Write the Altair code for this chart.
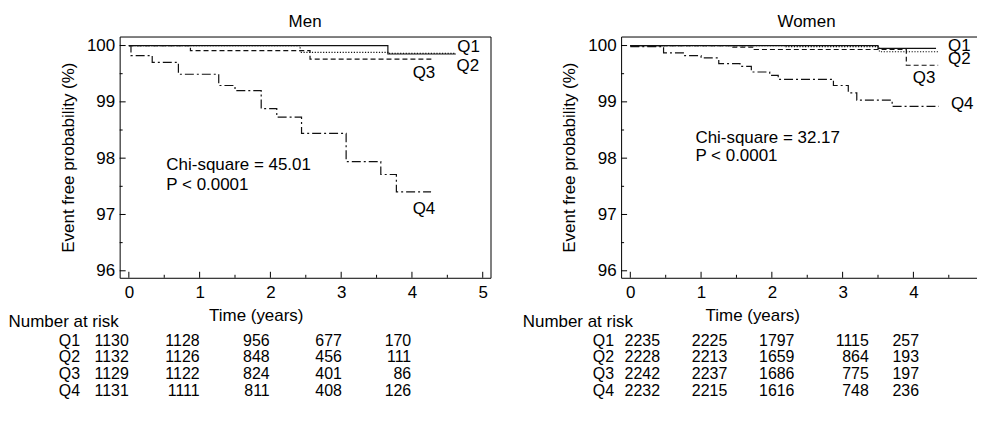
import altair as alt
import pandas as pd

FONT = "Liberation Sans"
FS = 17
TFS = 16

groups = ["Q1", "Q2", "Q3", "Q4"]

# ---- Men: Kaplan-Meier step curves (time in years, event free %) ----
men_q1_t = [0.0, 3.66, 4.62]
men_q1_v = [100.0, 99.85, 99.85]
men_q2_t = [0.0, 2.42, 3.66, 4.62]
men_q2_v = [100.0, 99.88, 99.86, 99.86]
men_q3_t = [0.0, 0.87, 2.56, 4.30]
men_q3_v = [100.0, 99.91, 99.76, 99.76]
men_q4_t = [0.0, 0.03, 0.33, 0.70, 1.27, 1.50, 1.87, 2.09, 2.44, 3.07, 3.56, 3.78, 4.27]
men_q4_v = [100.0, 99.82, 99.70, 99.49, 99.29, 99.20, 98.88, 98.73, 98.44, 97.94, 97.71, 97.40, 97.40]

# ---- Women ----
women_q1_t = [0.0, 3.50, 4.32]
women_q1_v = [100.0, 99.95, 99.95]
women_q2_t = [0.0, 2.20, 3.52, 4.35]
women_q2_v = [100.0, 99.98, 99.89, 99.89]
women_q3_t = [0.0, 1.43, 1.75, 3.90, 4.35]
women_q3_v = [100.0, 99.97, 99.93, 99.65, 99.65]
women_q4_t = [0.0, 0.47, 0.76, 1.00, 1.25, 1.55, 1.71, 1.97, 2.09, 2.87, 3.08, 3.20, 3.70, 4.36]
women_q4_v = [99.98, 99.87, 99.82, 99.78, 99.68, 99.63, 99.53, 99.47, 99.40, 99.29, 99.16, 99.03, 98.92, 98.92]

# ---- Number at risk ----
risk_times = [0, 1, 2, 3, 4]
men_risk = {
    "Q1": [1130, 1128, 956, 677, 170],
    "Q2": [1132, 1126, 848, 456, 111],
    "Q3": [1129, 1122, 824, 401, 86],
    "Q4": [1131, 1111, 811, 408, 126],
}
women_risk = {
    "Q1": [2235, 2225, 1797, 1115, 257],
    "Q2": [2228, 2213, 1659, 864, 193],
    "Q3": [2242, 2237, 1686, 775, 197],
    "Q4": [2232, 2215, 1616, 748, 236],
}

men_stats = ["Chi-square = 45.01", "P < 0.0001"]
women_stats = ["Chi-square = 32.17", "P < 0.0001"]

x_ticks = [0, 1, 2, 3, 4, 5]
x_minor = [0.5, 1.5, 2.5, 3.5, 4.5]
y_ticks = [96, 97, 98, 99, 100]
y_minor = [96.5, 97.5, 98.5, 99.5]

W, H = 372, 242
xs = alt.Scale(domain=[-0.13, 5.11], nice=False, zero=False)
ys = alt.Scale(domain=[95.876, 100.16], nice=False, zero=False)

x_enc = alt.X("t:Q", scale=xs,
              axis=alt.Axis(values=x_ticks, title=None, labelPadding=7, format="d"))
y_enc = alt.Y("v:Q", scale=ys,
              axis=alt.Axis(values=y_ticks, format="d", title="Event free probability (%)",
                            titlePadding=9, labelPadding=5))

# table rows: r = 1..4 for Q1..Q4
TROW = alt.Scale(domain=[-1.26, 4.6], reverse=True, nice=False, zero=False)
TABLE_H = 98.4


def curves_df(series):
    rows = []
    for g, (ts, vs) in zip(groups, series):
        for t, v in zip(ts, vs):
            rows.append({"t": t, "v": v, "g": g})
    return pd.DataFrame(rows)


def txt(df, align, x, y, size=FS):
    return alt.Chart(df).mark_text(font=FONT, fontSize=size, color="black", align=align,
                                   baseline="middle").encode(x=x, y=y, text="label:N")


def panel(title, series, qlab, stats, stats_pos, risk, lay):
    df = curves_df(series)
    lines = alt.Chart(df).mark_line(interpolate="step-after", color="#111", strokeWidth=1.2).encode(
        x=x_enc, y=y_enc,
        strokeDash=alt.StrokeDash("g:N", scale=alt.Scale(domain=groups,
                                  range=[[1, 0], [1.2, 1.6], [5, 3], [9, 3, 2, 3]]), legend=None),
    )
    ymaj = alt.Chart(pd.DataFrame({"v": y_ticks})).mark_rule(color="black").encode(
        y=y_enc, x=alt.value(0), x2=alt.value(6))
    ymin = alt.Chart(pd.DataFrame({"v": y_minor})).mark_rule(color="black").encode(
        y=y_enc, x=alt.value(0), x2=alt.value(3))
    xmaj = alt.Chart(pd.DataFrame({"t": x_ticks})).mark_rule(color="black").encode(
        x=x_enc, y=alt.value(H), y2=alt.value(H - 6))
    xmin = alt.Chart(pd.DataFrame({"t": x_minor})).mark_rule(color="black").encode(
        x=x_enc, y=alt.value(H), y2=alt.value(H - 3))
    qdf = pd.DataFrame({"t": [p[0] for p in qlab], "v": [p[1] for p in qlab], "label": groups})
    sdf = pd.DataFrame({"t": [stats_pos[0]] * 2, "v": list(stats_pos[1:]), "label": stats})
    plot = alt.layer(lines, ymaj, ymin, xmaj, xmin,
                     txt(qdf, "center", x_enc, y_enc), txt(sdf, "left", x_enc, y_enc)).properties(
        width=W, height=H,
        title=alt.TitleParams(title, font=FONT, fontSize=FS, fontWeight="normal",
                              color="black", offset=6, anchor="middle"),
    )

    # number at risk table
    ty = alt.Y("r:Q", scale=TROW, axis=None)
    tx = alt.X("t:Q", scale=xs, axis=None)
    nrows = []
    for i, g in enumerate(groups):
        for c, n in zip(lay["cols"], risk[g]):
            nrows.append({"t": c, "r": i + 1, "label": str(n)})
    qrows = pd.DataFrame({"t": [lay["q_x"]] * 4, "r": [1, 2, 3, 4], "label": groups})
    nar = pd.DataFrame({"t": [lay["nar_x"]], "r": [-0.13], "label": ["Number at risk"]})
    tyr = pd.DataFrame({"t": [lay["time_x"]], "r": [-0.49], "label": ["Time (years)"]})
    table = alt.layer(
        txt(pd.DataFrame(nrows), "right", tx, ty, TFS),
        txt(qrows, "right", tx, ty, TFS),
        txt(nar, "left", tx, ty),
        txt(tyr, "center", tx, ty),
    ).properties(width=W, height=TABLE_H, view=alt.ViewBackground(stroke="transparent"))
    return alt.vconcat(plot, table, spacing=0)


men = panel(
    "Men",
    [(men_q1_t, men_q1_v), (men_q2_t, men_q2_v), (men_q3_t, men_q3_v), (men_q4_t, men_q4_v)],
    [(4.80, 99.97), (4.79, 99.64), (4.17, 99.52), (4.17, 97.10)],
    men_stats, (0.53, 97.88, 97.52), men_risk,
    {"cols": [0.0, 1.0, 1.99, 3.01, 3.99], "q_x": -0.69, "nar_x": -1.70, "time_x": 1.8},
)
women = panel(
    "Women",
    [(women_q1_t, women_q1_v), (women_q2_t, women_q2_v), (women_q3_t, women_q3_v), (women_q4_t, women_q4_v)],
    [(4.65, 100.0), (4.65, 99.76), (4.15, 99.43), (4.69, 98.96)],
    women_stats, (0.92, 98.35, 98.04), women_risk,
    {"cols": [0.42, 1.37, 2.32, 3.37, 4.08], "q_x": -0.23, "nar_x": -1.52, "time_x": 1.73},
)

chart = alt.hconcat(men, women, spacing=30).properties(
    padding={"left": 0, "top": 3, "right": -16, "bottom": 0}
).configure_view(stroke="black", strokeWidth=1).configure_axis(
    labelFont=FONT, titleFont=FONT, labelFontSize=FS, titleFontSize=FS,
    labelColor="black", titleColor="black", titleFontWeight="normal",
    grid=False, domain=False, ticks=False,
)

chart.save("out.html", embed_options={"renderer": "svg", "actions": False})
